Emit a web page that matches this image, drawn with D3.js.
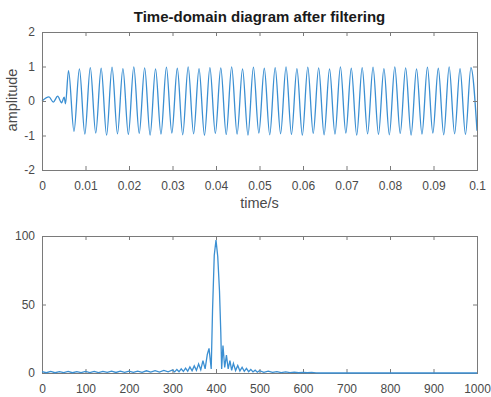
<!DOCTYPE html>
<html>
<head>
<meta charset="utf-8">
<script src="https://cdn.jsdelivr.net/npm/d3@7"></script>
<style>
  body { margin: 0; background: #fff; }
  text { font-family: "Liberation Sans", Arial, sans-serif; }
</style>
</head>
<body>
<div id="chart"></div>
<script>
// time-domain signal after filtering (wiggles, then peaks/troughs)
const timeS = [
    0, 0.0016, 0.0026, 0.0036, 0.0045, 0.0051, 0.0054,
    0.0061, 0.00735, 0.0086, 0.00985, 0.0111, 0.01235, 0.0136, 0.01485, 0.0161, 0.01735,
    0.0186, 0.01985, 0.0211, 0.02235, 0.0236, 0.02485, 0.0261, 0.02735, 0.0286, 0.02985,
    0.0311, 0.03235, 0.0336, 0.03485, 0.0361, 0.03735, 0.0386, 0.03985, 0.0411, 0.04235,
    0.0436, 0.04485, 0.0461, 0.04735, 0.0486, 0.04985, 0.0511, 0.05235, 0.0536, 0.05485,
    0.0561, 0.05735, 0.0586, 0.05985, 0.0611, 0.06235, 0.0636, 0.06485, 0.0661, 0.06735,
    0.0686, 0.06985, 0.0711, 0.07235, 0.0736, 0.07485, 0.0761, 0.07735, 0.0786, 0.07985,
    0.0811, 0.08235, 0.0836, 0.08485, 0.0861, 0.08735, 0.0886, 0.08985, 0.0911, 0.09235,
    0.0936, 0.09485, 0.0961, 0.09735, 0.0986, 0.1
];
const amplitude = [
    0, 0.12, -0.03, 0.14, -0.05, 0.11, -0.08,
    0.88, -0.88, 0.93, -0.96, 0.97, -0.93, 0.95, -0.99, 0.98, -0.95,
    0.94, -0.97, 0.99, -0.94, 0.96, -0.99, 0.93, -0.96, 0.98, -0.93,
    0.95, -0.98, 0.99, -0.95, 0.94, -0.99, 0.97, -0.94, 0.96, -0.97,
    0.99, -0.96, 0.93, -0.99, 0.98, -0.93, 0.95, -0.98, 0.97, -0.95,
    0.99, -0.97, 0.94, -0.99, 0.98, -0.94, 0.96, -0.98, 0.93, -0.96,
    0.99, -0.93, 0.95, -0.99, 0.97, -0.95, 0.98, -0.97, 0.94, -0.98,
    0.99, -0.94, 0.96, -0.99, 0.93, -0.96, 0.98, -0.93, 0.95, -0.98,
    0.99, -0.95, 0.94, -0.97, 0.97, -0.86
];

// magnitude spectrum
const freqHz = [
    0, 10, 20, 30, 40, 50, 60, 70, 80, 90, 100, 110, 120, 130, 140, 150,
    160, 170, 180, 190, 200, 210, 220, 230, 240, 250, 260, 270, 280, 290, 300,
    305, 310, 315, 320, 325, 330, 335, 340, 345, 350, 355, 360, 365, 370, 375,
    380, 384, 389, 392, 396, 400, 404, 408, 411, 413, 416, 420, 424, 428, 432, 436,
    440, 445, 450, 455, 460, 465, 470, 475, 480, 485, 490, 495, 500,
    510, 520, 530, 540, 550, 560, 570, 580, 590, 600, 610, 620, 630, 640, 1000
];
const magnitude = [
    1.0, 0.2, 1.1, 0.2, 1.0, 0.3, 1.1, 0.2, 1.0, 0.3, 1.2, 0.3, 1.1, 0.3, 1.2, 0.4,
    1.3, 0.4, 1.3, 0.5, 1.4, 0.5, 1.4, 0.5, 1.6, 0.6, 1.7, 0.7, 1.9, 0.8, 2.2,
    0.8, 2.6, 0.9, 3.0, 1.1, 3.6, 1.3, 4.4, 1.6, 5.2, 1.9, 6.6, 2.4, 9.0, 3.0,
    13.5, 18, 3, 45, 86, 97, 85, 60, 30, 3, 20, 4, 13, 3, 9, 2,
    7, 1.8, 5.5, 1.5, 4.2, 1.2, 3.4, 1.0, 2.6, 0.8, 2.1, 0.6, 1.7,
    0.5, 1.3, 0.4, 1.0, 0.3, 0.8, 0.3, 0.6, 0.2, 0.5, 0.2, 0.4, 0.1, 0, 0
];

const timeTicks = [0, 0.01, 0.02, 0.03, 0.04, 0.05, 0.06, 0.07, 0.08, 0.09, 0.1];
const ampTicks = [-2, -1, 0, 1, 2];
const freqTicks = [0, 100, 200, 300, 400, 500, 600, 700, 800, 900, 1000];
const magTicks = [0, 50, 100];

const W = 491, H = 397;
const lineColor = "#3b8fd2";
const axisColor = "#7a7a7a";
const labelColor = "#4a4a4a";

const svg = d3.select("#chart")
    .append("svg")
    .attr("width", W)
    .attr("height", H);

svg.append("rect").attr("width", W).attr("height", H).attr("fill", "#fff");

// draws a MATLAB-like boxed axes with inward ticks on all four sides
function drawAxes(g, x, y, xTicks, yTicks, fmtX) {
    const [x0, x1] = x.range();
    const [y0, y1] = y.range();

    const styleAxis = sel => {
        sel.select(".domain").remove();
        sel.selectAll("line").attr("stroke", axisColor);
        sel.selectAll("text")
            .attr("fill", labelColor)
            .style("font-size", "12px");
    };

    g.append("g")
        .attr("transform", `translate(0,${y0})`)
        .call(d3.axisBottom(x).tickValues(xTicks).tickFormat(fmtX)
            .tickSizeInner(-4).tickSizeOuter(0).tickPadding(11))
        .call(styleAxis);

    g.append("g")
        .attr("transform", `translate(0,${y1})`)
        .call(d3.axisTop(x).tickValues(xTicks).tickFormat("")
            .tickSizeInner(-4).tickSizeOuter(0))
        .call(styleAxis);

    g.append("g")
        .attr("transform", `translate(${x0},0)`)
        .call(d3.axisLeft(y).tickValues(yTicks).tickFormat(d => String(d))
            .tickSizeInner(-4).tickSizeOuter(0).tickPadding(7))
        .call(styleAxis);

    g.append("g")
        .attr("transform", `translate(${x1},0)`)
        .call(d3.axisRight(y).tickValues(yTicks).tickFormat("")
            .tickSizeInner(-4).tickSizeOuter(0))
        .call(styleAxis);

    g.append("rect")
        .attr("x", x0 + 0.5)
        .attr("y", y1 + 0.5)
        .attr("width", x1 - x0)
        .attr("height", y0 - y1)
        .attr("fill", "none")
        .attr("stroke", axisColor)
        .attr("stroke-width", 1);
}

// ---- top: time domain ----
const xTime = d3.scaleLinear().domain([0, 0.1]).range([42, 477]);
const yAmp = d3.scaleLinear().domain([-2, 2]).range([170, 32]);

const topPlot = svg.append("g");

const timeData = timeS.map((t, i) => ({ t: t, v: amplitude[i] }));

topPlot.append("path")
    .datum(timeData)
    .attr("fill", "none")
    .attr("stroke", lineColor)
    .attr("stroke-width", 1.3)
    .attr("d", d3.line()
        .x(d => xTime(d.t))
        .y(d => yAmp(d.v))
        .curve(d3.curveMonotoneX));

drawAxes(topPlot, xTime, yAmp, timeTicks, ampTicks, d3.format("~g"));

topPlot.append("text")
    .attr("x", 259.5)
    .attr("y", 22)
    .attr("text-anchor", "middle")
    .attr("fill", "#1a1a1a")
    .style("font-size", "15px")
    .style("font-weight", "bold")
    .text("Time-domain diagram after filtering");

topPlot.append("text")
    .attr("x", 259.5)
    .attr("y", 208)
    .attr("text-anchor", "middle")
    .attr("fill", labelColor)
    .style("font-size", "14.5px")
    .text("time/s");

topPlot.append("text")
    .attr("transform", "rotate(-90)")
    .attr("x", -100)
    .attr("y", 17)
    .attr("text-anchor", "middle")
    .attr("fill", labelColor)
    .style("font-size", "14.5px")
    .text("amplitude");

// ---- bottom: spectrum ----
const xFreq = d3.scaleLinear().domain([0, 1000]).range([42, 477]);
const yMag = d3.scaleLinear().domain([0, 100]).range([373, 236]);

const bottomPlot = svg.append("g");

drawAxes(bottomPlot, xFreq, yMag, freqTicks, magTicks, d3.format("d"));

const specData = freqHz.map((f, i) => ({ f: f, m: magnitude[i] }));

bottomPlot.append("path")
    .datum(specData)
    .attr("fill", "none")
    .attr("stroke", lineColor)
    .attr("stroke-width", 1.3)
    .attr("d", d3.line()
        .x(d => xFreq(d.f))
        .y(d => yMag(d.m)));
</script>
</body>
</html>
